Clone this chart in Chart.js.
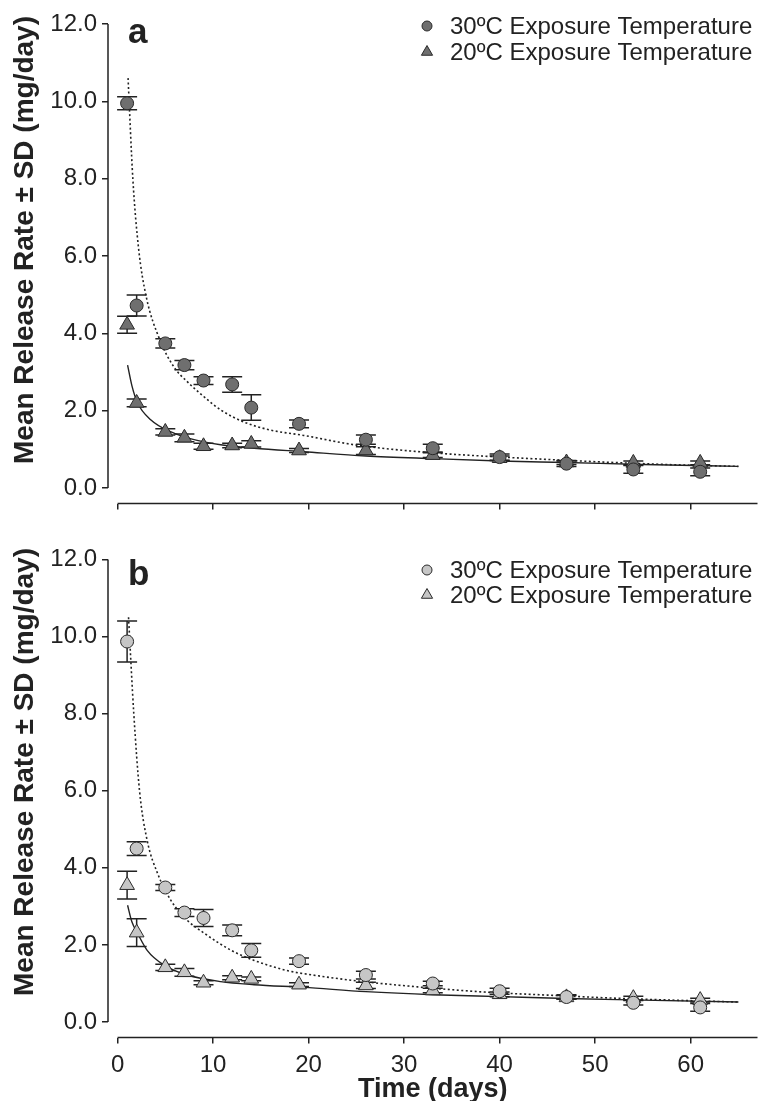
<!DOCTYPE html>
<html>
<head>
<meta charset="utf-8">
<script src="https://cdn.jsdelivr.net/npm/chart.js@4.4.1/dist/chart.umd.min.js"></script>
<style>
  body { margin: 0; background: #fff; width: 767px; height: 1101px; overflow: hidden; position: relative; }
  .panel { position: absolute; left: 0; width: 767px; }
  #panelA { top: 0; height: 530px; }
  #panelB { top: 540px; height: 561px; }
</style>
</head>
<body>
<div class="panel" id="panelA"><canvas id="chartA"></canvas></div>
<div class="panel" id="panelB"><canvas id="chartB"></canvas></div>
<script>
// Sampling days
const days = [1, 2, 5, 7, 9, 12, 14, 19, 26, 33, 40, 47, 54, 61];

// Panel a (dark markers)
const a30Mean = [9.95, 4.72, 3.74, 3.18, 2.78, 2.68, 2.08, 1.66, 1.25, 1.03, 0.80, 0.63, 0.48, 0.42];
const a30Sd   = [0.17, 0.27, 0.12, 0.12, 0.10, 0.20, 0.33, 0.10, 0.12, 0.10, 0.08, 0.07, 0.10, 0.10];
const a20Mean = [4.22, 2.20, 1.45, 1.30, 1.08, 1.10, 1.14, 0.97, 0.97, 0.85, 0.77, 0.66, 0.65, 0.65];
const a20Sd   = [0.22, 0.10, 0.08, 0.10, 0.08, 0.06, 0.08, 0.05, 0.10, 0.06, 0.06, 0.05, 0.05, 0.05];

// Panel b (light markers)
const b30Mean = [9.87, 4.50, 3.49, 2.84, 2.70, 2.38, 1.86, 1.58, 1.22, 1.00, 0.80, 0.65, 0.50, 0.38];
const b30Sd   = [0.53, 0.18, 0.08, 0.10, 0.22, 0.14, 0.18, 0.08, 0.10, 0.06, 0.08, 0.06, 0.06, 0.10];
const b20Mean = [3.55, 2.32, 1.42, 1.29, 1.02, 1.15, 1.12, 0.97, 0.95, 0.82, 0.72, 0.64, 0.62, 0.57];
const b20Sd   = [0.36, 0.36, 0.08, 0.10, 0.05, 0.05, 0.05, 0.05, 0.08, 0.06, 0.06, 0.05, 0.05, 0.05];

// Fitted curves
const fitA30Days = [1.1, 1.6, 2.2, 3, 4.4, 5.9, 7.3, 9.1, 10.8, 13.2, 16, 19.5, 25, 32, 38, 45, 52, 58.5, 65];
const fitA30Vals = [10.6, 8.0, 6.2, 4.95, 3.85, 3.13, 2.75, 2.35, 2.02, 1.71, 1.5, 1.36, 1.11, 0.93, 0.83, 0.74, 0.66, 0.6, 0.56];
const fitA20Days = [1.05, 1.5, 2.1, 3.5, 5.6, 7.7, 10.8, 14.3, 19.5, 26, 33, 40, 47, 55, 65];
const fitA20Vals = [3.18, 2.65, 2.2, 1.76, 1.45, 1.27, 1.12, 1.03, 0.94, 0.83, 0.76, 0.70, 0.66, 0.61, 0.56];
const fitB30Days = [1.15, 1.7, 2.3, 3.1, 4.2, 5.6, 7.3, 9.1, 11.9, 14.3, 17.7, 21, 25, 32, 39, 45, 52, 58, 65];
const fitB30Vals = [10.5, 8.0, 6.0, 4.71, 3.85, 3.15, 2.64, 2.3, 1.86, 1.6, 1.34, 1.2, 1.07, 0.9, 0.77, 0.70, 0.62, 0.57, 0.52];
const fitB20Days = [1.05, 1.5, 2.1, 3.1, 4.9, 7.3, 10.8, 14.3, 19.5, 26, 33, 40, 47, 55, 65];
const fitB20Vals = [3.03, 2.6, 2.3, 1.86, 1.47, 1.22, 1.05, 0.97, 0.9, 0.79, 0.71, 0.66, 0.61, 0.57, 0.52];

// Axis ticks and labels
const xTicks = [0, 10, 20, 30, 40, 50, 60];
const yTicks = [0, 2, 4, 6, 8, 10, 12];
const seriesLabels = ['30ºC Exposure Temperature', '20ºC Exposure Temperature'];
const yTitle = 'Mean Release Rate ± SD (mg/day)';
const xTitle = 'Time (days)';

const FONT = '"Liberation Sans", Arial, sans-serif';
const ink = '#222';

function pts(xs, ys) {
    return xs.map((x, i) => ({ x: x, y: ys[i] }));
}

// Offset axis lines (Prism style)
const axesPlugin = {
    id: 'axes',
    beforeDatasetsDraw(chart) {
        const ctx = chart.ctx;
        const xs = chart.scales.x, ys = chart.scales.y;
        ctx.save();
        ctx.strokeStyle = ink;
        ctx.lineWidth = 1.5;
        ctx.beginPath();
        ctx.moveTo(xs.left, ys.getPixelForValue(12));
        ctx.lineTo(xs.left, ys.getPixelForValue(0));
        ctx.moveTo(xs.getPixelForValue(0), ys.bottom);
        ctx.lineTo(xs.right, ys.bottom);
        ctx.stroke();
        ctx.restore();
    }
};

// Error bars from dataset.sd
const errorBarPlugin = {
    id: 'errorBars',
    beforeDatasetsDraw(chart) {
        const ctx = chart.ctx;
        const xs = chart.scales.x, ys = chart.scales.y;
        ctx.save();
        ctx.strokeStyle = ink;
        ctx.lineWidth = 1.5;
        chart.data.datasets.forEach(ds => {
            if (!ds.sd) return;
            ds.data.forEach((p, i) => {
                const px = xs.getPixelForValue(p.x);
                const top = ys.getPixelForValue(p.y + ds.sd[i]);
                const bot = ys.getPixelForValue(p.y - ds.sd[i]);
                ctx.beginPath();
                ctx.moveTo(px, top); ctx.lineTo(px, bot);
                ctx.moveTo(px - 10, top); ctx.lineTo(px + 10, top);
                ctx.moveTo(px - 10, bot); ctx.lineTo(px + 10, bot);
                ctx.stroke();
            });
        });
        ctx.restore();
    }
};

// Legend, panel letter and y title
const decorPlugin = {
    id: 'decor',
    afterDraw(chart, args, opts) {
        const ctx = chart.ctx;
        ctx.save();
        ctx.fillStyle = ink;
        // panel letter
        ctx.font = 'bold 35px ' + FONT;
        ctx.textBaseline = 'alphabetic';
        ctx.textAlign = 'left';
        ctx.fillText(opts.letter, opts.letterX, opts.letterY);
        // legend
        ctx.font = '24px ' + FONT;
        ctx.textBaseline = 'middle';
        chart.data.datasets.filter(ds => ds.sd).forEach((ds, i) => {
            const y = opts.legendRows[i];
            ctx.fillStyle = ds.backgroundColor;
            ctx.strokeStyle = ds.borderColor;
            ctx.lineWidth = 1;
            ctx.beginPath();
            if (ds.pointStyle === 'triangle') {
                ctx.moveTo(opts.legendX, y - 6.5);
                ctx.lineTo(opts.legendX + 5.6, y + 3.25);
                ctx.lineTo(opts.legendX - 5.6, y + 3.25);
                ctx.closePath();
            } else {
                ctx.arc(opts.legendX, y, 5, 0, Math.PI * 2);
            }
            ctx.fill();
            ctx.stroke();
            ctx.fillStyle = ink;
            ctx.fillText(ds.label, opts.legendX + 23, y + 1);
        });
        // y title
        ctx.font = 'bold 28px ' + FONT;
        ctx.textAlign = 'center';
        ctx.textBaseline = 'alphabetic';
        ctx.translate(33, opts.yTitleY);
        ctx.rotate(-Math.PI / 2);
        ctx.fillText(yTitle, 0, 0);
        ctx.restore();
    }
};

function makeChart(id, c) {
    return new Chart(document.getElementById(id), {
        type: 'scatter',
        data: {
            datasets: [
                {
                    label: seriesLabels[0], data: pts(days, c.m30), sd: c.s30,
                    pointStyle: 'circle', pointRadius: 6.5, backgroundColor: c.fill,
                    borderColor: '#2a2a2a', borderWidth: 1
                },
                {
                    label: seriesLabels[1], data: pts(days, c.m20), sd: c.s20,
                    pointStyle: 'triangle', pointRadius: 8.5, backgroundColor: c.fill,
                    borderColor: '#2a2a2a', borderWidth: 1
                },
                {
                    label: 'fit30', data: pts(c.f30x, c.f30y), showLine: true, pointRadius: 0,
                    borderColor: ink, borderWidth: 1.6, borderDash: [2, 2.5], cubicInterpolationMode: 'monotone'
                },
                {
                    label: 'fit20', data: pts(c.f20x, c.f20y), showLine: true, pointRadius: 0,
                    borderColor: ink, borderWidth: 1.4, cubicInterpolationMode: 'monotone'
                }
            ]
        },
        options: {
            responsive: true,
            maintainAspectRatio: false,
            animation: false,
            layout: { padding: { top: c.padTop, right: 6, left: 0, bottom: 0 } },
            plugins: {
                legend: { display: false },
                tooltip: { enabled: false },
                decor: { letter: c.letter, letterX: 128, letterY: c.letterY, legendX: 427, legendRows: c.legendRows, yTitleY: c.yTitleY }
            },
            scales: {
                x: {
                    type: 'linear', min: -1, max: 67,
                    afterBuildTicks: s => { s.ticks = xTicks.map(v => ({ value: v })); },
                    afterFit: s => { s.height = c.xHeight; },
                    grid: { drawOnChartArea: false, color: ink, lineWidth: 1.5, tickLength: 6 },
                    border: { display: false },
                    ticks: { display: c.showX, color: ink, padding: 7, font: { family: FONT, size: 24 } },
                    title: { display: c.showX, text: xTitle, color: ink, padding: { top: 0, bottom: -5 }, font: { family: FONT, size: 27, weight: 'bold' } }
                },
                y: {
                    type: 'linear', min: -0.4, max: 12,
                    afterBuildTicks: s => { s.ticks = yTicks.map(v => ({ value: v })); },
                    afterFit: s => { s.width = 108; },
                    grid: { drawOnChartArea: false, color: ink, lineWidth: 1.5, tickLength: 6 },
                    border: { display: false },
                    ticks: { color: ink, padding: 5, font: { family: FONT, size: 24 }, callback: v => v.toFixed(1) }
                }
            }
        },
        plugins: [axesPlugin, errorBarPlugin, decorPlugin]
    });
}

makeChart('chartA', {
    m30: a30Mean, s30: a30Sd, m20: a20Mean, s20: a20Sd,
    f30x: fitA30Days, f30y: fitA30Vals, f20x: fitA20Days, f20y: fitA20Vals,
    fill: '#6f6f6f', letter: 'a', letterY: 43, legendRows: [26, 52], yTitleY: 240,
    padTop: 24, xHeight: 26.5, showX: false
});

makeChart('chartB', {
    m30: b30Mean, s30: b30Sd, m20: b20Mean, s20: b20Sd,
    f30x: fitB30Days, f30y: fitB30Vals, f20x: fitB20Days, f20y: fitB20Vals,
    fill: '#c6c6c6', letter: 'b', letterY: 45, legendRows: [30, 55], yTitleY: 232,
    padTop: 18, xHeight: 63.5, showX: true
});
</script>
</body>
</html>
